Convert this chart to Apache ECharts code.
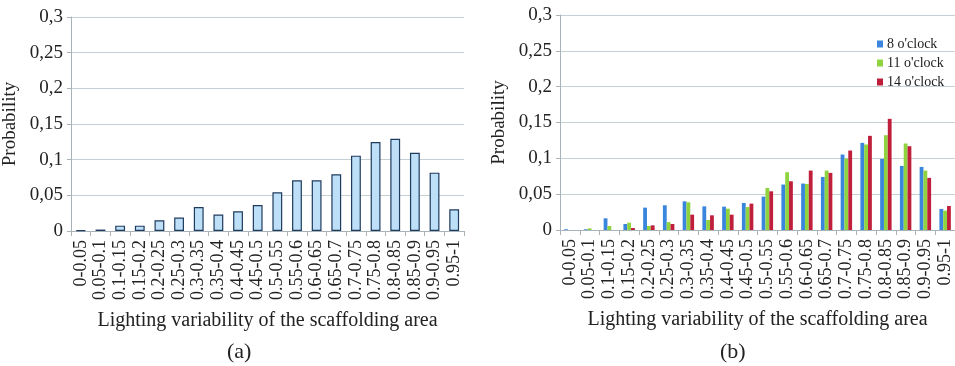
<!DOCTYPE html>
<html><head><meta charset="utf-8">
<script src="https://cdn.jsdelivr.net/npm/echarts@6/dist/echarts.min.js"></script>
<style>html,body{margin:0;padding:0;background:#fff;}#c{width:955px;height:366px;}</style>
</head><body><div id="c"></div>
<script>
var categories = ['0-0.05','0.05-0.1','0.1-0.15','0.15-0.2','0.2-0.25','0.25-0.3','0.3-0.35','0.35-0.4','0.4-0.45','0.45-0.5','0.5-0.55','0.55-0.6','0.6-0.65','0.65-0.7','0.7-0.75','0.75-0.8','0.8-0.85','0.85-0.9','0.9-0.95','0.95-1'];
var probAll = [0.001,0.002,0.0075,0.0075,0.015,0.019,0.0336,0.023,0.0276,0.0364,0.0542,0.071,0.071,0.0794,0.1056,0.1248,0.1294,0.1098,0.0818,0.0304];
var prob8 = [0.001,0.001,0.0163,0.0084,0.0312,0.0345,0.040,0.033,0.0326,0.0377,0.0466,0.0634,0.0648,0.074,0.1053,0.1216,0.0992,0.0894,0.088,0.0293];
var prob11 = [0,0.0023,0.0056,0.0102,0.0056,0.011,0.0387,0.014,0.0298,0.032,0.0587,0.0806,0.0643,0.0829,0.0997,0.1193,0.1323,0.1207,0.0829,0.027];
var prob14 = [0,0,0,0.0028,0.0065,0.0084,0.0214,0.0205,0.0214,0.0368,0.054,0.068,0.0829,0.0797,0.1109,0.1314,0.1551,0.1169,0.0727,0.0335];
var seriesNames = ["8 o'clock","11 o'clock","14 o'clock"];
var yMin = 0, yMax = 0.3, yStep = 0.05;

var serif = 'Liberation Serif';
var chart = echarts.init(document.getElementById('c'));
function fmt(v){ return String(+v.toFixed(2)).replace('.', ','); }
function xAx(i){
  return {type:'category', gridIndex:i, data:categories,
    axisLine:{lineStyle:{color:'#a9b4ba'}},
    axisTick:{show:true, alignWithLabel:false, length:5, lineStyle:{color:'#a9b4ba'}},
    axisLabel:{rotate:90, interval:0, fontFamily:serif, fontSize:18, color:'#222', margin:9},
    name:'Lighting variability of the scaffolding area', nameLocation:'middle', nameGap:80,
    nameTextStyle:{fontFamily:serif, fontSize:20, color:'#222'}};
}
function yAx(i){
  return {type:'value', gridIndex:i, min:yMin, max:yMax, interval:yStep,
    axisLine:{show:true, lineStyle:{color:'#a9b4ba'}},
    axisTick:{show:true, length:4, lineStyle:{color:'#a9b4ba'}},
    splitLine:{lineStyle:{color:'#c5d0d5', width:1}},
    axisLabel:{formatter:fmt, fontFamily:serif, fontSize:19, color:'#222', margin:8},
    name:'Probability', nameLocation:'middle', nameGap:51,
    nameTextStyle:{fontFamily:serif, fontSize:19, color:'#222'}};
}
chart.setOption({
  animation:false,
  textStyle:{fontFamily:serif},
  title:[
    {text:'(a)', left:222, top:336, textStyle:{fontFamily:serif, fontSize:22, fontWeight:'normal', color:'#222'}},
    {text:'(b)', left:715, top:336, textStyle:{fontFamily:serif, fontSize:22, fontWeight:'normal', color:'#222'}}
  ],
  grid:[
    {left:68, top:17, width:396, height:214},
    {left:560, top:15, width:404, height:215}
  ],
  legend:{data:seriesNames, orient:'vertical', left:872, top:32, itemWidth:6, itemHeight:7, itemGap:5,
    icon:'rect', textStyle:{fontFamily:serif, fontSize:14, color:'#222', padding:[0,0,0,-1]}},
  xAxis:[xAx(0), xAx(1)],
  yAxis:[yAx(0), yAx(1)],
  series:[
    {type:'bar', xAxisIndex:0, yAxisIndex:0, data:probAll, barCategoryGap:'50%',
      itemStyle:{color:'#bde0f8', borderColor:'#1f3b5e', borderWidth:1.2}},
    {name:seriesNames[0], type:'bar', xAxisIndex:1, yAxisIndex:1, data:prob8, barGap:'0%', barCategoryGap:'42%', itemStyle:{color:'#3a86dc'}},
    {name:seriesNames[1], type:'bar', xAxisIndex:1, yAxisIndex:1, data:prob11, barGap:'0%', barCategoryGap:'42%', itemStyle:{color:'#8fd43e'}},
    {name:seriesNames[2], type:'bar', xAxisIndex:1, yAxisIndex:1, data:prob14, barGap:'0%', barCategoryGap:'42%', itemStyle:{color:'#c01f3c'}}
  ]
});
</script></body></html>
